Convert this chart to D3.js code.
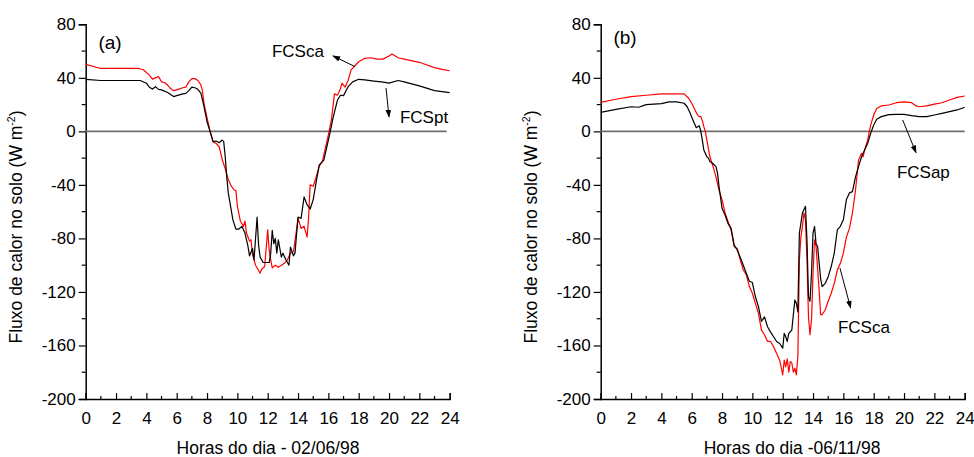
<!DOCTYPE html>
<html>
<head>
<meta charset="utf-8">
<script src="https://cdn.jsdelivr.net/npm/d3@7"></script>
<style>
  html, body { margin: 0; padding: 0; background: #fff; }
  svg { display: block; font-family: "Liberation Sans", Arial, sans-serif; }
</style>
</head>
<body>
<svg id="chart" width="974" height="457"></svg>
<script>
// Soil heat flux (W m-2) over the day, [hour, value]

// (a) 02/06/98
const fcsCaA = [
  [0,50],[1,47],[2,47],[3,47],[3.5,47],[3.8,46],[4.2,42],[4.4,39],[4.6,40],[4.8,41],[5.0,37],[5.2,36.5],[5.4,34.6],
  [5.6,32],[5.8,30.4],[6.0,31],[6.4,32.6],[6.6,33],[6.8,37],[7.0,39.4],[7.2,39.4],[7.4,38],[7.6,34.6],[7.7,30],
  [7.8,21],[8.0,10],[8.2,0],[8.4,-8],[8.6,-9],[8.8,-11.5],[9.0,-21],[9.2,-28],[9.4,-36],[9.6,-41],[9.8,-44],[9.9,-44],
  [10.0,-56],[10.2,-67],[10.4,-71],[10.5,-67],[10.6,-76],[10.8,-82],[10.9,-81],[11.0,-92],[11.2,-100],[11.4,-104],
  [11.5,-106],[11.6,-103],[11.8,-101],[12.0,-73.6],[12.1,-89],[12.2,-96],[12.3,-102],[12.5,-100],[12.7,-101.5],
  [12.9,-100],[13.1,-98.6],[13.3,-96],[13.5,-91],[13.7,-90],[13.9,-73.6],[14.0,-65],[14.2,-72.5],[14.4,-71],
  [14.6,-79],[14.7,-64],[14.8,-40],[15.0,-41],[15.2,-34],[15.4,-26],[15.6,-22.6],[15.8,-12.7],[16.0,-2.7],[16.2,8.5],
  [16.4,28],[16.6,27],[16.8,32],[16.9,36],[17.1,33],[17.3,38],[17.5,46],[17.8,49.6],[18.0,52],[18.4,54.6],[18.8,55],
  [19.2,54],[19.6,54],[20.0,56.3],[20.2,57.8],[20.6,55],[21,54],[22,51.6],[22.5,49.6],[23,47.6],[23.5,46.3],[24,45.3]
];
const fcsPtA = [
  [0,38.9],[1,38],[2,38],[3,38],[3.6,38],[4.0,36],[4.2,33],[4.4,31.6],[4.6,33.4],[4.8,31.4],[5.0,31],[5.4,29],
  [5.8,26],[6.0,26.7],[6.4,28],[6.6,28.4],[6.8,30.4],[7.0,33],[7.2,32.6],[7.4,31.4],[7.6,28.4],[7.8,18.4],[8.0,7.2],
  [8.2,0],[8.4,-7.7],[8.6,-7.2],[8.8,-8.5],[9.0,-6.5],[9.1,-7.7],[9.2,-19],[9.3,-34],[9.4,-46],[9.6,-59],[9.7,-66],
  [9.9,-73],[10.1,-73],[10.3,-71],[10.5,-76],[10.7,-86],[10.8,-93],[11.0,-87.5],[11.1,-96],[11.3,-64],[11.4,-85],
  [11.5,-94],[11.7,-98],[11.9,-98],[12.1,-98],[12.2,-91],[12.3,-74],[12.4,-84],[12.5,-80],[12.6,-91],[12.7,-81],
  [12.9,-94],[13.0,-91],[13.2,-96],[13.4,-100],[13.5,-86.5],[13.7,-93],[13.8,-91],[14.0,-64],[14.2,-65],[14.4,-49],
  [14.6,-55],[14.8,-58],[15.0,-51],[15.2,-37.6],[15.4,-25],[15.7,-21.5],[15.9,-11.5],[16.1,-1.5],[16.3,9.7],
  [16.6,23.4],[16.8,27],[17.0,26.7],[17.3,33.4],[17.6,37],[18.0,38.9],[18.4,38.4],[19,37.6],[19.5,37],[20,36],
  [20.6,38],[21,37],[22,34],[23,30.4],[24,29]
];

// (b) 06/11/98
const fcsCaB = [
  [0,21.7],[1,24],[2,26],[3,27],[4,28],[5,28],[5.5,28],[5.8,24.7],[6.0,21],[6.2,16.4],[6.4,12],[6.5,11],[6.6,11],
  [6.7,8],[6.8,3.5],[6.9,0],[7.0,-6.5],[7.2,-19],[7.4,-26],[7.6,-34],[7.8,-44],[8.0,-51],[8.2,-61],[8.4,-67.5],
  [8.6,-73.7],[8.8,-86],[9.0,-87.5],[9.2,-96],[9.4,-103.6],[9.6,-107],[9.8,-116],[10.0,-121],[10.2,-128.5],[10.4,-136],
  [10.6,-148.5],[10.8,-152],[11.0,-157],[11.2,-157],[11.4,-161],[11.6,-166],[11.8,-171],[12.0,-182],[12.1,-171],
  [12.2,-176],[12.3,-170],[12.4,-180],[12.5,-172],[12.6,-173],[12.7,-180],[12.8,-177],[12.9,-182],[13.0,-168],
  [13.1,-96],[13.2,-79],[13.3,-71],[13.4,-61],[13.5,-66],[13.6,-96],[13.7,-138.5],[13.8,-152],[13.9,-141],[14.0,-106],
  [14.1,-81],[14.2,-86],[14.4,-118.6],[14.5,-137],[14.6,-137],[14.8,-133.5],[15.0,-127],[15.2,-121],[15.4,-113.6],
  [15.6,-103.6],[15.8,-98.6],[16.0,-91],[16.2,-79],[16.4,-72.5],[16.6,-61],[16.8,-44],[17.0,-21.5],[17.2,-16.4],
  [17.3,-19],[17.4,-14],[17.6,-6.5],[17.8,4.7],[18.0,12.2],[18.2,17],[18.5,19],[19,19.7],[19.5,21.4],[20,22],
  [20.5,21.4],[20.8,19],[21.0,18.4],[21.5,19],[22,20.4],[22.5,21.4],[23,23.4],[23.5,25.4],[24,26.4]
];
const fcsApB = [
  [0,14.2],[1,16.4],[2,18.4],[2.5,18],[3,20],[4,20.7],[4.5,22],[5.0,22],[5.5,21],[5.7,18.4],[5.9,13.5],[6.1,8],
  [6.3,2.7],[6.4,3.5],[6.5,4.2],[6.6,0],[6.7,-6.5],[6.8,-14],[7.0,-19],[7.1,-20],[7.2,-22.6],[7.4,-24],[7.6,-26.4],
  [7.7,-31],[7.8,-41],[8.0,-57.5],[8.2,-62.5],[8.4,-69],[8.6,-72.5],[8.8,-85],[9.0,-88.7],[9.2,-94],[9.4,-100],
  [9.6,-106],[9.8,-112],[10.0,-113],[10.2,-123.6],[10.4,-131],[10.6,-142],[10.8,-138.6],[11.0,-146],[11.2,-150],
  [11.4,-153.5],[11.6,-157],[11.8,-158.5],[12.0,-162],[12.1,-151],[12.2,-153.5],[12.3,-157],[12.4,-151],[12.6,-148.5],
  [12.8,-126],[12.9,-128.5],[13.0,-135],[13.1,-76],[13.3,-61],[13.5,-56],[13.6,-81],[13.7,-123.6],[13.8,-127],
  [13.9,-106],[14.0,-76],[14.1,-71],[14.2,-84],[14.3,-86],[14.5,-110],[14.6,-116],[14.8,-113.6],[15.0,-108.6],
  [15.2,-101],[15.4,-91],[15.6,-73.7],[15.8,-71],[16.0,-66],[16.2,-51],[16.4,-46],[16.6,-45],[16.8,-34],[17.0,-26.4],
  [17.2,-19],[17.4,-14],[17.6,-9],[17.8,-1.5],[18.0,4.7],[18.2,9],[18.5,11],[19,12.5],[19.5,12.7],[20,12.7],
  [20.5,11.7],[21,11],[21.5,11],[22,12.2],[22.5,13.5],[23,14.7],[23.5,16],[24,18]
];

const yTicks = [-200, -160, -120, -80, -40, 0, 40, 80];
const xTicks = [0, 2, 4, 6, 8, 10, 12, 14, 16, 18, 20, 22, 24];

const svg = d3.select("#chart");

svg.append("defs").append("marker")
  .attr("id", "arrowhead")
  .attr("viewBox", "0 0 10 10")
  .attr("refX", 9).attr("refY", 5)
  .attr("markerWidth", 8).attr("markerHeight", 8)
  .attr("markerUnits", "userSpaceOnUse")
  .attr("orient", "auto")
  .append("path")
  .attr("d", "M0,1.5 L10,5 L0,8.5 Z")
  .attr("fill", "#000");

// plain hyphen-minus for negative tick labels
const plainNum = d => String(d);

function drawPanel(cfg) {
  const x = d3.scaleLinear().domain([0, 24]).range([cfg.left, cfg.left + 364]);
  const y = d3.scaleLinear().domain([-200, 80]).range([399, 24.3]);
  const g = svg.append("g");

  // y axis: outward ticks, minor every 20
  const yAxis = d3.axisLeft(y).tickValues(yTicks).tickSize(7).tickPadding(3).tickFormat(plainNum);
  const ya = g.append("g").attr("transform", `translate(${cfg.left},0)`).call(yAxis);
  ya.selectAll("text").attr("font-size", 17).attr("fill", "#000").attr("font-family", "Liberation Sans, Arial, sans-serif");
  const yMinor = d3.range(-180, 80, 40);
  g.selectAll(".ymin").data(yMinor).join("line")
    .attr("x1", cfg.left - 4).attr("x2", cfg.left)
    .attr("y1", d => y(d)).attr("y2", d => y(d))
    .attr("stroke", "#000").attr("stroke-width", 1.2);

  // x axis: inward ticks, minor every hour
  const xAxis = d3.axisBottom(x).tickValues(xTicks).tickSize(-6).tickPadding(13).tickFormat(plainNum);
  const xa = g.append("g").attr("transform", `translate(0,399)`).call(xAxis);
  xa.selectAll("text").attr("font-size", 17).attr("fill", "#000").attr("font-family", "Liberation Sans, Arial, sans-serif");
  const xMinor = d3.range(1, 24, 2);
  g.selectAll(".xmin").data(xMinor).join("line")
    .attr("x1", d => x(d)).attr("x2", d => x(d))
    .attr("y1", 399).attr("y2", 396)
    .attr("stroke", "#000").attr("stroke-width", 1.2);

  [ya, xa].forEach(a => {
    a.select(".domain").attr("stroke", "#000").attr("stroke-width", 1.5);
    a.selectAll(".tick line").attr("stroke", "#000").attr("stroke-width", 1.2);
  });

  // zero reference line
  g.append("line")
    .attr("x1", x(0)).attr("x2", x(cfg.zeroEnd))
    .attr("y1", y(0)).attr("y2", y(0))
    .attr("stroke", "#6e6e6e").attr("stroke-width", 1.6);

  const line = d3.line().x(d => x(d[0])).y(d => y(d[1]));
  g.append("path").datum(cfg.red).attr("d", line)
    .attr("fill", "none").attr("stroke", "#ff0000").attr("stroke-width", 1.2).attr("stroke-linejoin", "round");
  g.append("path").datum(cfg.black).attr("d", line)
    .attr("fill", "none").attr("stroke", "#000").attr("stroke-width", 1.2).attr("stroke-linejoin", "round");

  // panel letter
  g.append("text").attr("x", cfg.letterX).attr("y", cfg.letterY)
    .attr("font-size", 19).attr("text-anchor", "middle").attr("dominant-baseline", "central")
    .text(cfg.letter);

  // series labels with arrows
  cfg.notes.forEach(n => {
    g.append("text").attr("x", x(n.tx)).attr("y", y(n.ty))
      .attr("font-size", 17).attr("fill", "#000").text(n.label);
    g.append("line")
      .attr("x1", x(n.a[0])).attr("y1", y(n.a[1]))
      .attr("x2", x(n.a[2])).attr("y2", y(n.a[3]))
      .attr("stroke", "#000").attr("stroke-width", 1)
      .attr("marker-end", "url(#arrowhead)");
  });

  // axis titles
  const yt = g.append("text")
    .attr("transform", `translate(${cfg.left - 64},227) rotate(-90)`)
    .attr("text-anchor", "middle").attr("font-size", 17.5);
  yt.append("tspan").text("Fluxo de calor no solo (W m");
  yt.append("tspan").attr("dy", -7).attr("font-size", 10.5).text("-2");
  yt.append("tspan").attr("dy", 7).text(")");

  g.append("text").attr("x", cfg.xTitleX).attr("y", 454)
    .attr("text-anchor", "middle").attr("font-size", 17.5).text(cfg.xTitle);
}

drawPanel({
  left: 85.7, red: fcsCaA, black: fcsPtA, zeroEnd: 23.8,
  letter: "(a)", letterX: 110, letterY: 42,
  xTitle: "Horas do dia - 02/06/98", xTitleX: 268,
  notes: [
    { label: "FCSca", tx: 12.28, ty: 55.5, a: [17.75, 48.4, 16.3, 56.4] },
    { label: "FCSpt", tx: 20.72, ty: 6.5, a: [19.8, 32.4, 20.0, 10.7] }
  ]
});

drawPanel({
  left: 600.7, red: fcsCaB, black: fcsApB, zeroEnd: 24,
  letter: "(b)", letterX: 625, letterY: 37,
  xTitle: "Horas do dia -06/11/98", xTitleX: 792,
  notes: [
    { label: "FCSap", tx: 19.53, ty: -35, a: [19.91, 8.5, 20.79, -15.9] },
    { label: "FCSca", tx: 15.64, ty: -151, a: [15.77, -102, 16.48, -132] }
  ]
});
</script>
</body>
</html>
